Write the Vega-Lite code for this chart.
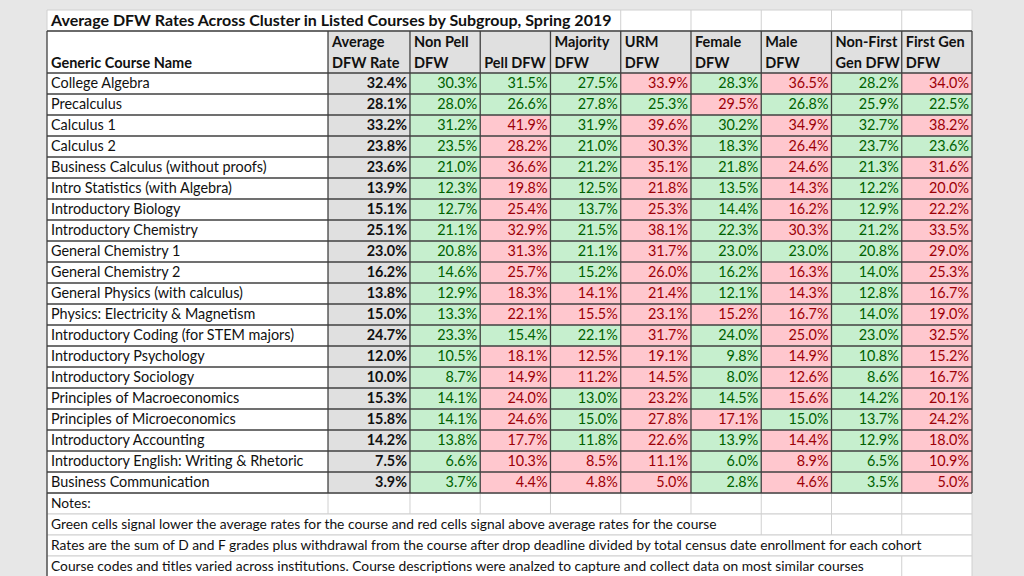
{
  "$schema": "https://vega.github.io/schema/vega-lite/v6.json",
  "width": 925,
  "height": 567,
  "autosize": {"type": "none"},
  "padding": {"left": 47, "top": 10, "right": 52, "bottom": 0},
  "background": "#e7e7e7",
  "config": {"view": {"fill": "white", "stroke": null}, "font": "Lato"},
  "datasets": {
    "courses": [
      {"course": "College Algebra", "avg": 0.324, "nonpell": 0.303, "pell": 0.315, "majority": 0.275, "urm": 0.339, "female": 0.283, "male": 0.365, "nonfirst": 0.282, "firstgen": 0.340},
      {"course": "Precalculus", "avg": 0.281, "nonpell": 0.280, "pell": 0.266, "majority": 0.278, "urm": 0.253, "female": 0.295, "male": 0.268, "nonfirst": 0.259, "firstgen": 0.225},
      {"course": "Calculus 1", "avg": 0.332, "nonpell": 0.312, "pell": 0.419, "majority": 0.319, "urm": 0.396, "female": 0.302, "male": 0.349, "nonfirst": 0.327, "firstgen": 0.382},
      {"course": "Calculus 2", "avg": 0.238, "nonpell": 0.235, "pell": 0.282, "majority": 0.210, "urm": 0.303, "female": 0.183, "male": 0.264, "nonfirst": 0.237, "firstgen": 0.236},
      {"course": "Business Calculus (without proofs)", "avg": 0.236, "nonpell": 0.210, "pell": 0.366, "majority": 0.212, "urm": 0.351, "female": 0.218, "male": 0.246, "nonfirst": 0.213, "firstgen": 0.316},
      {"course": "Intro Statistics (with Algebra)", "avg": 0.139, "nonpell": 0.123, "pell": 0.198, "majority": 0.125, "urm": 0.218, "female": 0.135, "male": 0.143, "nonfirst": 0.122, "firstgen": 0.200},
      {"course": "Introductory Biology", "avg": 0.151, "nonpell": 0.127, "pell": 0.254, "majority": 0.137, "urm": 0.253, "female": 0.144, "male": 0.162, "nonfirst": 0.129, "firstgen": 0.222},
      {"course": "Introductory Chemistry", "avg": 0.251, "nonpell": 0.211, "pell": 0.329, "majority": 0.215, "urm": 0.381, "female": 0.223, "male": 0.303, "nonfirst": 0.212, "firstgen": 0.335},
      {"course": "General Chemistry 1", "avg": 0.230, "nonpell": 0.208, "pell": 0.313, "majority": 0.211, "urm": 0.317, "female": 0.230, "male": 0.230, "nonfirst": 0.208, "firstgen": 0.290},
      {"course": "General Chemistry 2", "avg": 0.162, "nonpell": 0.146, "pell": 0.257, "majority": 0.152, "urm": 0.260, "female": 0.162, "male": 0.163, "nonfirst": 0.140, "firstgen": 0.253},
      {"course": "General Physics (with calculus)", "avg": 0.138, "nonpell": 0.129, "pell": 0.183, "majority": 0.141, "urm": 0.214, "female": 0.121, "male": 0.143, "nonfirst": 0.128, "firstgen": 0.167},
      {"course": "Physics: Electricity & Magnetism", "avg": 0.150, "nonpell": 0.133, "pell": 0.221, "majority": 0.155, "urm": 0.231, "female": 0.152, "male": 0.167, "nonfirst": 0.140, "firstgen": 0.190},
      {"course": "Introductory Coding (for STEM majors)", "avg": 0.247, "nonpell": 0.233, "pell": 0.154, "majority": 0.221, "urm": 0.317, "female": 0.240, "male": 0.250, "nonfirst": 0.230, "firstgen": 0.325},
      {"course": "Introductory Psychology", "avg": 0.120, "nonpell": 0.105, "pell": 0.181, "majority": 0.125, "urm": 0.191, "female": 0.098, "male": 0.149, "nonfirst": 0.108, "firstgen": 0.152},
      {"course": "Introductory Sociology", "avg": 0.100, "nonpell": 0.087, "pell": 0.149, "majority": 0.112, "urm": 0.145, "female": 0.080, "male": 0.126, "nonfirst": 0.086, "firstgen": 0.167},
      {"course": "Principles of Macroeconomics", "avg": 0.153, "nonpell": 0.141, "pell": 0.240, "majority": 0.130, "urm": 0.232, "female": 0.145, "male": 0.156, "nonfirst": 0.142, "firstgen": 0.201},
      {"course": "Principles of Microeconomics", "avg": 0.158, "nonpell": 0.141, "pell": 0.246, "majority": 0.150, "urm": 0.278, "female": 0.171, "male": 0.150, "nonfirst": 0.137, "firstgen": 0.242},
      {"course": "Introductory Accounting", "avg": 0.142, "nonpell": 0.138, "pell": 0.177, "majority": 0.118, "urm": 0.226, "female": 0.139, "male": 0.144, "nonfirst": 0.129, "firstgen": 0.180},
      {"course": "Introductory English: Writing & Rhetoric", "avg": 0.075, "nonpell": 0.066, "pell": 0.103, "majority": 0.085, "urm": 0.111, "female": 0.060, "male": 0.089, "nonfirst": 0.065, "firstgen": 0.109},
      {"course": "Business Communication", "avg": 0.039, "nonpell": 0.037, "pell": 0.044, "majority": 0.048, "urm": 0.050, "female": 0.028, "male": 0.046, "nonfirst": 0.035, "firstgen": 0.050}
    ],
    "headers": [
      {"col": "c0", "line1": "", "line2": "Generic Course Name"},
      {"col": "avg", "line1": "Average", "line2": "DFW Rate"},
      {"col": "nonpell", "line1": "Non Pell", "line2": "DFW"},
      {"col": "pell", "line1": "", "line2": "Pell DFW"},
      {"col": "majority", "line1": "Majority", "line2": "DFW"},
      {"col": "urm", "line1": "URM", "line2": "DFW"},
      {"col": "female", "line1": "Female", "line2": "DFW"},
      {"col": "male", "line1": "Male", "line2": "DFW"},
      {"col": "nonfirst", "line1": "Non-First", "line2": "Gen DFW"},
      {"col": "firstgen", "line1": "First Gen", "line2": "DFW"}
    ],
    "notes": [
      {"row": "n1", "text": "Notes:"},
      {"row": "n2", "text": "Green cells signal lower the average rates for the course and red cells signal above average rates for the course"},
      {"row": "n3", "text": "Rates are the sum of D and F grades plus withdrawal from the course after drop deadline divided by total census date enrollment for each cohort"},
      {"row": "n4", "text": "Course codes and titles varied across institutions. Course descriptions were analzed to capture and collect data on most similar courses"}
    ],
    "title": [
      {"t": "Average DFW Rates Across Cluster in Listed Courses by Subgroup, Spring 2019"}
    ]
  },
  "layer": [
    {
      "data": {"name": "title"},
      "mark": {"type": "rect", "fill": "white", "stroke": "#d0d0d0", "strokeWidth": 1},
      "encoding": {
        "x": {"datum": "c0", "bandPosition": 0, "type": "nominal", "axis": null, "scale": {"domain": ["c0","c0.1","c0.2","c0.3","c0.4","c0.5","c0.6","c0.7","c0.8","c0.9","c0.10","c0.11","c0.12","c0.13","c0.14","c0.15","c0.16","c0.17","c0.18","c0.19","c0.20","c0.21","c0.22","c0.23","avg","avg.1","avg.2","avg.3","avg.4","avg.5","avg.6","nonpell","nonpell.1","nonpell.2","nonpell.3","nonpell.4","nonpell.5","pell","pell.1","pell.2","pell.3","pell.4","pell.5","majority","majority.1","majority.2","majority.3","majority.4","majority.5","urm","urm.1","urm.2","urm.3","urm.4","urm.5","female","female.1","female.2","female.3","female.4","female.5","male","male.1","male.2","male.3","male.4","male.5","nonfirst","nonfirst.1","nonfirst.2","nonfirst.3","nonfirst.4","nonfirst.5","firstgen","firstgen.1","firstgen.2","firstgen.3","firstgen.4","firstgen.5"], "paddingInner": 0, "paddingOuter": 0}},
        "x2": {"datum": "firstgen", "bandPosition": 6},
        "y": {"datum": "title", "bandPosition": 0, "type": "nominal", "axis": null, "scale": {"domain": ["title","h1","h2","College Algebra","Precalculus","Calculus 1","Calculus 2","Business Calculus (without proofs)","Intro Statistics (with Algebra)","Introductory Biology","Introductory Chemistry","General Chemistry 1","General Chemistry 2","General Physics (with calculus)","Physics: Electricity & Magnetism","Introductory Coding (for STEM majors)","Introductory Psychology","Introductory Sociology","Principles of Macroeconomics","Principles of Microeconomics","Introductory Accounting","Introductory English: Writing & Rhetoric","Business Communication","n1","n2","n3","n4"], "paddingInner": 0, "paddingOuter": 0}},
        "y2": {"datum": "title", "bandPosition": 1}
      }
    },
    {
      "data": {"name": "headers"},
      "transform": [{"filter": "indexof(['urm','female','male','nonfirst','firstgen'], datum.col) >= 0"}],
      "mark": {"type": "rule", "stroke": "#d0d0d0", "strokeWidth": 1},
      "encoding": {
        "x": {"field": "col", "bandPosition": 0, "type": "nominal"},
        "y": {"datum": "title", "bandPosition": 0, "type": "nominal"},
        "y2": {"datum": "title", "bandPosition": 1}
      }
    },
    {
      "data": {"name": "notes"},
      "mark": {"type": "rect", "fill": "white", "stroke": "#d0d0d0", "strokeWidth": 1},
      "encoding": {
        "x": {"datum": "c0", "bandPosition": 0, "type": "nominal"},
        "x2": {"datum": "firstgen", "bandPosition": 6},
        "y": {"field": "row", "type": "nominal"}
      }
    },
    {
      "data": {"name": "headers"},
      "transform": [{"filter": "datum.col != 'c0'"}],
      "mark": {"type": "rule", "stroke": "#d0d0d0", "strokeWidth": 1},
      "encoding": {
        "x": {"field": "col", "bandPosition": 0, "type": "nominal"},
        "y": {"datum": "n1", "bandPosition": 0, "type": "nominal"},
        "y2": {"datum": "n1", "bandPosition": 1}
      }
    },
    {
      "data": {"name": "headers"},
      "transform": [{"filter": "indexof(['male','nonfirst','firstgen'], datum.col) >= 0"}],
      "mark": {"type": "rule", "stroke": "#d0d0d0", "strokeWidth": 1},
      "encoding": {
        "x": {"field": "col", "bandPosition": 0, "type": "nominal"},
        "y": {"datum": "n2", "bandPosition": 0, "type": "nominal"},
        "y2": {"datum": "n2", "bandPosition": 1}
      }
    },
    {
      "data": {"name": "headers"},
      "transform": [{"filter": "datum.col == 'firstgen'"}],
      "mark": {"type": "rule", "stroke": "#d0d0d0", "strokeWidth": 1},
      "encoding": {
        "x": {"field": "col", "bandPosition": 0, "type": "nominal"},
        "y": {"datum": "n4", "bandPosition": 0, "type": "nominal"},
        "y2": {"datum": "n4", "bandPosition": 1}
      }
    },
    {
      "data": {"name": "title"},
      "mark": {"type": "rule", "stroke": "#404040", "strokeWidth": 1.3},
      "encoding": {
        "x": {"datum": "c0", "bandPosition": 0, "type": "nominal"},
        "y": {"datum": "n1", "bandPosition": 0, "type": "nominal"},
        "y2": {"datum": "n4", "bandPosition": 1}
      }
    },
    {
      "data": {"name": "title"},
      "mark": {"type": "rect", "fill": "#e0e0e0"},
      "encoding": {
        "x": {"datum": "avg", "bandPosition": 0, "type": "nominal"},
        "x2": {"datum": "firstgen", "bandPosition": 6},
        "y": {"datum": "h1", "bandPosition": 0, "type": "nominal"},
        "y2": {"datum": "h2", "bandPosition": 1}
      }
    },
    {
      "data": {"name": "courses"},
      "mark": {"type": "rect", "fill": "#e0e0e0"},
      "encoding": {
        "x": {"datum": "avg", "bandPosition": 0, "type": "nominal"},
        "x2": {"datum": "avg", "bandPosition": 7},
        "y": {"field": "course", "bandPosition": 0, "type": "nominal"},
        "y2": {"field": "course", "bandPosition": 1}
      }
    },
    {
      "data": {"name": "courses"},
      "transform": [{"fold": ["nonpell","pell","majority","urm","female","male","nonfirst","firstgen"], "as": ["group","value"]}],
      "mark": {"type": "rect"},
      "encoding": {
        "x": {"field": "group", "bandPosition": 0, "type": "nominal"},
        "x2": {"field": "group", "bandPosition": 6},
        "y": {"field": "course", "bandPosition": 0, "type": "nominal"},
        "y2": {"field": "course", "bandPosition": 1},
        "fill": {"condition": {"test": "datum.value <= datum.avg", "value": "#c6efce"}, "value": "#ffc7ce"}
      }
    },
    {
      "data": {"name": "courses"},
      "mark": {"type": "rule", "stroke": "#404040", "strokeWidth": 1.3},
      "encoding": {
        "x": {"datum": "c0", "bandPosition": 0, "type": "nominal"},
        "x2": {"datum": "firstgen", "bandPosition": 6},
        "y": {"field": "course", "bandPosition": 0, "type": "nominal"}
      }
    },
    {
      "data": {"name": "title"},
      "mark": {"type": "rule", "stroke": "#404040", "strokeWidth": 1.3},
      "encoding": {
        "x": {"datum": "c0", "bandPosition": 0, "type": "nominal"},
        "x2": {"datum": "firstgen", "bandPosition": 6},
        "y": {"datum": "h1", "bandPosition": 0, "type": "nominal"}
      }
    },
    {
      "data": {"name": "title"},
      "mark": {"type": "rule", "stroke": "#404040", "strokeWidth": 1.3},
      "encoding": {
        "x": {"datum": "c0", "bandPosition": 0, "type": "nominal"},
        "x2": {"datum": "firstgen", "bandPosition": 6},
        "y": {"datum": "n1", "bandPosition": 0, "type": "nominal"}
      }
    },
    {
      "data": {"name": "headers"},
      "mark": {"type": "rule", "stroke": "#404040", "strokeWidth": 1.3},
      "encoding": {
        "x": {"field": "col", "bandPosition": 0, "type": "nominal"},
        "y": {"datum": "h1", "bandPosition": 0, "type": "nominal"},
        "y2": {"datum": "Business Communication", "bandPosition": 1}
      }
    },
    {
      "data": {"name": "title"},
      "mark": {"type": "rule", "stroke": "#404040", "strokeWidth": 1.3},
      "encoding": {
        "x": {"datum": "firstgen", "bandPosition": 6, "type": "nominal"},
        "y": {"datum": "h1", "bandPosition": 0, "type": "nominal"},
        "y2": {"datum": "Business Communication", "bandPosition": 1}
      }
    },
    {
      "data": {"name": "courses"},
      "mark": {"type": "text", "align": "left", "baseline": "middle", "dx": 4, "fontSize": 14.4, "color": "#111111"},
      "encoding": {
        "x": {"datum": "c0", "bandPosition": 0, "type": "nominal"},
        "y": {"field": "course", "type": "nominal"},
        "text": {"field": "course"}
      }
    },
    {
      "data": {"name": "courses"},
      "mark": {"type": "text", "align": "right", "baseline": "middle", "dx": -3, "fontSize": 14.4, "fontWeight": "bold", "color": "#111111"},
      "encoding": {
        "x": {"datum": "avg", "bandPosition": 7, "type": "nominal"},
        "y": {"field": "course", "type": "nominal"},
        "text": {"field": "avg", "format": ".1%"}
      }
    },
    {
      "data": {"name": "courses"},
      "transform": [{"fold": ["nonpell","pell","majority","urm","female","male","nonfirst","firstgen"], "as": ["group","value"]}],
      "mark": {"type": "text", "align": "right", "baseline": "middle", "dx": -3, "fontSize": 14.4},
      "encoding": {
        "x": {"field": "group", "bandPosition": 6, "type": "nominal"},
        "y": {"field": "course", "type": "nominal"},
        "text": {"field": "value", "format": ".1%"},
        "color": {"condition": {"test": "datum.value <= datum.avg", "value": "#006100"}, "value": "#9c0006"}
      }
    },
    {
      "data": {"name": "headers"},
      "mark": {"type": "text", "align": "left", "baseline": "middle", "dx": 4, "dy": 1, "fontSize": 14.5, "fontWeight": "bold", "color": "#111111"},
      "encoding": {
        "x": {"field": "col", "bandPosition": 0, "type": "nominal"},
        "y": {"datum": "h1", "type": "nominal"},
        "text": {"field": "line1"}
      }
    },
    {
      "data": {"name": "headers"},
      "mark": {"type": "text", "align": "left", "baseline": "middle", "dx": 4, "dy": 1, "fontSize": 14.5, "fontWeight": "bold", "color": "#111111"},
      "encoding": {
        "x": {"field": "col", "bandPosition": 0, "type": "nominal"},
        "y": {"datum": "h2", "type": "nominal"},
        "text": {"field": "line2"}
      }
    },
    {
      "data": {"name": "title"},
      "mark": {"type": "text", "align": "left", "baseline": "middle", "dx": 4, "fontSize": 16, "fontWeight": "bold", "color": "#111111"},
      "encoding": {
        "x": {"datum": "c0", "bandPosition": 0, "type": "nominal"},
        "y": {"datum": "title", "type": "nominal"},
        "text": {"field": "t"}
      }
    },
    {
      "data": {"name": "notes"},
      "mark": {"type": "text", "align": "left", "baseline": "middle", "dx": 4, "fontSize": 13.8, "color": "#111111"},
      "encoding": {
        "x": {"datum": "c0", "bandPosition": 0, "type": "nominal"},
        "y": {"field": "row", "type": "nominal"},
        "text": {"field": "text"}
      }
    }
  ]
}
